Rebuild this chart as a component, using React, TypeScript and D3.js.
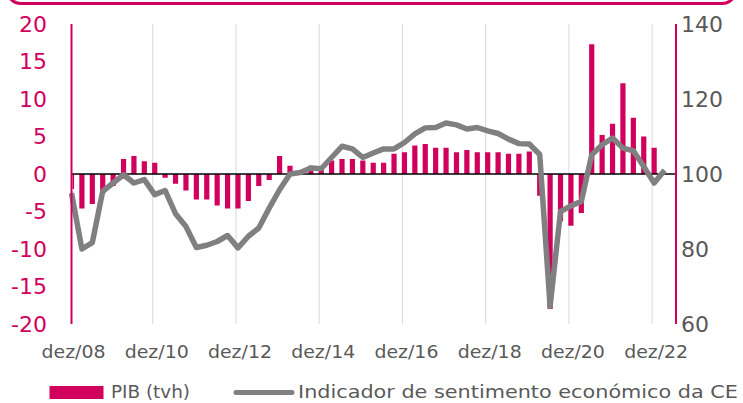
import React from "react";
import * as d3 from "d3";

const categories = [
  "dez/08","mar/09","jun/09","set/09","dez/09","mar/10","jun/10","set/10",
  "dez/10","mar/11","jun/11","set/11","dez/11","mar/12","jun/12","set/12",
  "dez/12","mar/13","jun/13","set/13","dez/13","mar/14","jun/14","set/14",
  "dez/14","mar/15","jun/15","set/15","dez/15","mar/16","jun/16","set/16",
  "dez/16","mar/17","jun/17","set/17","dez/17","mar/18","jun/18","set/18",
  "dez/18","mar/19","jun/19","set/19","dez/19","mar/20","jun/20","set/20",
  "dez/20","mar/21","jun/21","set/21","dez/21","mar/22","jun/22","set/22",
  "dez/22","mar/23"
];

const pib = [
  -2.0, -4.6, -4.0, -2.6, -1.6, 2.0, 2.4, 1.7,
  1.5, -0.5, -1.3, -2.2, -3.4, -3.4, -4.2, -4.6,
  -4.6, -3.6, -1.6, -0.8, 2.4, 1.1, 0.3, 1.1,
  0.7, 1.8, 2.0, 2.0, 1.8, 1.5, 1.5, 2.7,
  2.9, 3.8, 4.0, 3.5, 3.5, 2.9, 3.2, 2.9,
  2.9, 2.9, 2.7, 2.7, 3.0, -2.9, -18.0, -6.3,
  -6.9, -5.2, 17.3, 5.2, 6.7, 12.1, 7.5, 5.0,
  3.5
];

const esi = [
  94.9, 80.0, 81.7, 95.4, 97.6, 99.8, 97.6, 98.5,
  94.5, 95.6, 89.4, 86.0, 80.4, 81.0, 82.0, 83.6,
  80.3, 83.4, 85.6, 90.9, 95.8, 100.0, 100.4, 101.6,
  101.4, 104.4, 107.4, 106.7, 104.4, 105.6, 106.7, 106.7,
  108.4, 110.7, 112.3, 112.4, 113.6, 113.1, 112.0, 112.4,
  111.5, 110.8, 109.3, 108.1, 108.0, 105.2, 64.7, 90.0,
  91.5, 92.7, 105.1, 107.8, 109.6, 106.9, 106.2, 102.0,
  97.6, 101.0
];

const leftTicks = [20, 15, 10, 5, 0, -5, -10, -15, -20];
const rightTicks = [140, 120, 100, 80, 60];
const xLabelEvery = 8;

const MAGENTA = "#D1005D";
const GREY = "#808080";
const TEXT = "#595959";
const FONT = "'DejaVu Sans', 'Open Sans', sans-serif";

export default function App() {
  const W = 743, H = 403;
  const left = 71.5, right = 676, top = 24, bottom = 324;
  const x = d3.scaleLinear().domain([0, 58.1]).range([left, right]);
  const yL = d3.scaleLinear().domain([-20, 20]).range([bottom, top]);
  const yR = d3.scaleLinear().domain([60, 140]).range([bottom, top]);
  const barW = 5.2;

  const line = d3.line<number>().x((_, i) => x(i)).y((d) => yR(d));

  const labelIdx = categories.map((_, i) => i).filter((i) => i % xLabelEvery === 0 && i <= 56);

  return (
    <svg width={W} height={H} style={{ position: "absolute", left: 0, top: 0, background: "#fff" }}>
      {/* header frame */}
      <rect x={7} y={-40} width={729} height={43.5} rx={14} ry={14} fill="none" stroke={MAGENTA} strokeWidth={3} />

      {/* gridlines */}
      {labelIdx.filter((i) => i > 0).map((i) => (
        <line key={"g" + i} x1={x(i) - 2} x2={x(i) - 2} y1={top} y2={bottom} stroke="#D9D9D9" strokeWidth={1} />
      ))}

      <defs>
        <clipPath id="plotclip">
          <rect x={left + 1} y={0} width={right - left - 1} height={H} />
        </clipPath>
      </defs>

      {/* bars */}
      <g clipPath="url(#plotclip)">
        {pib.map((v, i) => (
          <rect
            key={"b" + i}
            x={x(i) - barW / 2}
            y={Math.min(yL(v), yL(0))}
            width={barW}
            height={Math.abs(yL(v) - yL(0))}
            fill={MAGENTA}
          />
        ))}
      </g>

      {/* zero line */}
      <line x1={left} x2={right} y1={yL(0)} y2={yL(0)} stroke="#000" strokeWidth={1.5} />

      {/* ESI line */}
      <path d={line(esi) || ""} fill="none" stroke={GREY} strokeWidth={5.5} strokeLinejoin="round" strokeLinecap="butt" />

      {/* axes */}
      <line x1={left} x2={left} y1={top} y2={bottom} stroke={MAGENTA} strokeWidth={2} />
      <line x1={right} x2={right} y1={top} y2={bottom} stroke={MAGENTA} strokeWidth={2} />

      {/* left tick labels */}
      {leftTicks.map((t) => (
        <text key={"l" + t} x={47} y={yL(t)} dy="0.36em" textAnchor="end" fill={MAGENTA} fontFamily={FONT} fontSize={22}>
          {t}
        </text>
      ))}
      {/* right tick labels */}
      {rightTicks.map((t) => (
        <text key={"r" + t} x={681} y={yR(t)} dy="0.36em" textAnchor="start" fill={TEXT} fontFamily={FONT} fontSize={22}>
          {t}
        </text>
      ))}

      {/* x labels */}
      {labelIdx.map((i) => (
        <text key={"x" + i} x={x(i) + 2} y={358} textAnchor="middle" fill={TEXT} fontFamily={FONT} fontSize={18}
          textLength={64} lengthAdjust="spacingAndGlyphs">
          {categories[i]}
        </text>
      ))}

      {/* legend */}
      <rect x={49.5} y={386} width={54} height={13} fill={MAGENTA} />
      <text x={111} y={398} fill={TEXT} fontFamily={FONT} fontSize={17} textLength={79} lengthAdjust="spacingAndGlyphs">
        PIB (tvh)
      </text>
      <line x1={236} x2={292} y1={392.5} y2={392.5} stroke={GREY} strokeWidth={5} strokeLinecap="round" />
      <text x={298} y={398} fill={TEXT} fontFamily={FONT} fontSize={17} textLength={440} lengthAdjust="spacingAndGlyphs">
        Indicador de sentimento económico da CE
      </text>
    </svg>
  );
}
